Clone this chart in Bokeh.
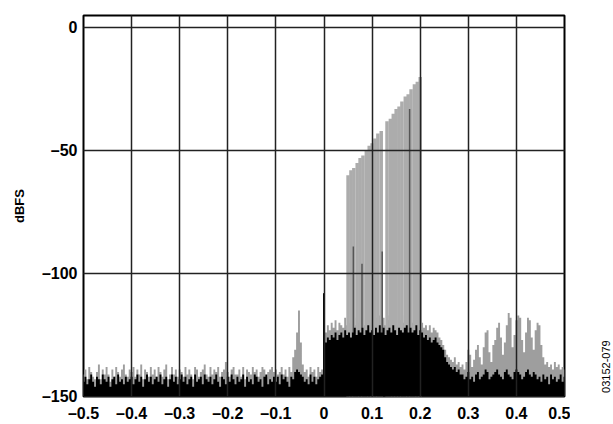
import math
import numpy as np
from bokeh.plotting import figure
from bokeh.layouts import row
from bokeh.models import Range1d, FixedTicker, Label, ColumnDataSource
from bokeh.embed import file_html
from bokeh.resources import INLINE

# ---------------- data ----------------
# FFT bin frequencies (normalized), 0.004 spacing
freq = np.round(np.linspace(-0.5, 0.5, 251), 4)

# black trace (average) in dBFS
black_neg = [
    -144, -142, -145, -143, -141, -144, -146, -142, -143, -145, -141, -143, -144, -142, -146, -143, -142, -145, -141, -144, -143, -145, -142, -144, -143,
    -142, -145, -143, -141, -144, -142, -146, -143, -141, -144, -142, -145, -143, -142, -144, -141, -145, -143, -142, -146, -143, -141, -144, -142, -145,
    -143, -141, -144, -142, -145, -143, -142, -146, -141, -144, -143, -142, -145, -141, -143, -144, -142, -145, -143, -141, -144, -146, -142, -143, -145,
    -142, -144, -141, -143, -145, -142, -144, -143, -141, -146, -142, -144, -143, -145, -141, -142, -144, -143, -146, -142, -141, -145, -143, -144, -142,
    -144, -142, -145, -141, -143, -142, -144, -146, -142, -143, -140, -139, -140, -141, -142, -144, -143, -145, -141, -144, -142, -145, -143, -142, -141,
]
black_mid = [
    -108,
    -128, -126, -127, -125,
    -126, -124, -127, -125, -124,
    -126, -123, -125, -124, -126,
    -124, -122, -125, -123, -124,
    -122, -125, -123, -121, -124,
    -123, -125, -122, -124, -121,
    -124, -122, -125, -123, -122,
    -124, -121, -123, -125, -122,
    -123, -124, -122, -121, -124,
    -122, -124, -123, -121, -125,
    -123, -124, -126, -125, -127,
    -126, -128, -127, -126, -128,
    -129, -130, -131, -134, -136,
    -137, -138, -139, -138, -140,
    -139, -141,
]
black_pos = [
    -141, -143, -142, -140, -143, -142, -144, -141, -140, -143,
    -142, -141, -139, -140, -143, -142, -141, -140, -139, -141,
    -142, -143, -140, -139, -141, -142, -143, -140, -139, -140,
    -141, -143, -142, -140, -139, -141, -142, -140, -141, -143,
    -142, -144, -141, -143, -142, -145, -141, -143, -142, -144,
    -143, -141, -144, -142,
]
black_level = black_neg + black_mid + black_pos

# gray trace (peak hold) in dBFS
gray_neg = [
    -141, -139, -143, -138, -140, -142, -143, -140, -137, -143, -139, -141, -138, -141, -144, -139, -142, -138, -140, -142, -139, -137, -141, -142, -139,
    -140, -138, -142, -139, -141, -137, -143, -139, -140, -142, -138, -141, -139, -142, -138, -140, -142, -139, -137, -143, -141, -138, -141, -139, -142,
    -139, -140, -142, -138, -141, -139, -141, -143, -138, -139, -142, -140, -139, -137, -141, -142, -138, -141, -139, -140, -138, -142, -140, -139, -136,
    -140, -142, -139, -138, -141, -141, -139, -142, -138, -143, -139, -140, -141, -138, -140, -139, -142, -140, -138, -139, -142, -140, -139, -138, -140,
    -139, -141, -140, -138, -141, -139, -142, -138, -140, -134, -131, -124, -115, -128, -137, -140, -139, -142, -138, -140, -139, -142, -138, -140, -139,
]
gray_mid = [
    -108,
    -124, -121, -123, -120,
    -122, -119, -123, -120, -121,
    -122, -118, -121, -120, -123,
    -119, -121, -118, -120, -122,
    -118, -121, -119, -117, -120,
    -119, -121, -118, -120, -117,
    -120, -118, -121, -119, -117,
    -120, -117, -119, -121, -118,
    -119, -120, -117, -118, -120,
    -118, -120, -119, -117, -121,
    -119, -120, -122, -121, -123,
    -121, -124, -122, -123, -124,
    -126, -127, -129, -131, -133,
    -134, -135, -136, -134, -137,
    -136, -138,
]
gray_pos = [
    -137, -139, -136, -131, -133, -138, -135, -131, -129, -134,
    -137, -130, -124, -123, -132, -136, -129, -127, -122, -120,
    -126, -133, -128, -121, -116, -118, -130, -125, -119, -117,
    -118, -127, -132, -124, -118, -119, -126, -131, -123, -120,
    -121, -129, -134, -137, -136, -138, -137, -139, -136, -138,
    -137, -139, -138, -139,
]
gray_level = gray_neg + gray_mid + gray_pos

# multitone signal (peak hold)
tone_freq = [0.050, 0.056, 0.062, 0.069, 0.075, 0.081, 0.088, 0.094, 0.100, 0.106, 0.112, 0.119,
             0.131, 0.138, 0.144, 0.150, 0.156, 0.162, 0.169, 0.175, 0.181, 0.188, 0.194, 0.200]
tone_level = [-60, -58, -57, -55, -53, -52, -50, -48, -47, -45, -43, -42,
              -38, -37, -35, -33, -32, -30, -28, -27, -25, -23, -22, -20]

# tones visible in black (average) trace
dark_freq = [0.061, 0.079, 0.121, 0.178]
dark_level = [-89, -96, -91, -33]

x_ticks = [-0.5, -0.4, -0.3, -0.2, -0.1, 0, 0.1, 0.2, 0.3, 0.4, 0.5]
x_labels = ["–0.5", "–0.4", "–0.3", "–0.2", "–0.1", "0", "0.1", "0.2", "0.3", "0.4", "0.5"]
y_ticks = [-150, -100, -50, 0]
y_labels = ["–150", "–100", "–50", "0"]

# ---------------- figure ----------------
FLOOR = -150
H = 424
p = figure(width=570, height=H, x_range=Range1d(-0.5, 0.5), y_range=Range1d(-150, 5),
           output_backend="svg", toolbar_location=None,
           min_border_left=83, min_border_right=6, min_border_top=15, min_border_bottom=26)
p.background_fill_color = "white"
p.border_fill_color = "white"
p.outline_line_color = "black"
p.outline_line_width = 2

src = ColumnDataSource(dict(f=freq, g=gray_level, b=black_level))
if hasattr(p, "varea_step"):
    p.varea_step(x="f", y1=FLOOR, y2="g", source=src, step_mode="center", fill_color="#9e9e9e")
else:
    p.varea(x="f", y1=FLOOR, y2="g", source=src, fill_color="#9e9e9e")
p.vbar(x=tone_freq, width=0.0072, bottom=FLOOR, top=tone_level,
       fill_color="#acacac", line_color=None)
p.segment(x0=dark_freq, y0=[FLOOR] * len(dark_freq), x1=dark_freq, y1=dark_level,
          line_color="#555555", line_width=1.5)
if hasattr(p, "varea_step"):
    p.varea_step(x="f", y1=FLOOR, y2="b", source=src, step_mode="center", fill_color="black")
else:
    p.varea(x="f", y1=FLOOR, y2="b", source=src, fill_color="black")

# grids
p.xgrid.ticker = FixedTicker(ticks=x_ticks)
p.ygrid.ticker = FixedTicker(ticks=y_ticks)
for g in (p.xgrid, p.ygrid):
    g.grid_line_color = "#222222"
    g.grid_line_width = 1.5
    g.level = "overlay"

# axes
font = "Liberation Sans"
p.xaxis.ticker = FixedTicker(ticks=x_ticks)
p.yaxis.ticker = FixedTicker(ticks=y_ticks)
p.xaxis.major_label_overrides = {t: l for t, l in zip(x_ticks, x_labels)}
p.yaxis.major_label_overrides = {t: l for t, l in zip(y_ticks, y_labels)}
for ax in (p.xaxis, p.yaxis):
    ax.axis_line_color = None
    ax.major_tick_line_color = None
    ax.minor_tick_line_color = None
    ax.major_tick_out = 0
    ax.major_tick_in = 0
    ax.major_label_text_font = font
    ax.major_label_text_font_style = "bold"
    ax.major_label_text_font_size = "16px"
    ax.major_label_text_color = "black"
p.xaxis.major_label_standoff = 8
p.yaxis.major_label_standoff = 6
p.yaxis.axis_label = "dBFS"
p.yaxis.axis_label_text_font = font
p.yaxis.axis_label_text_font_style = "bold"
p.yaxis.axis_label_text_font_size = "13px"
p.yaxis.axis_label_text_color = "black"
p.yaxis.axis_label_standoff = 12

# side panel with the figure code
SW = 42
side = figure(width=SW, height=H, x_range=Range1d(0, SW), y_range=Range1d(0, H),
              output_backend="svg", toolbar_location=None,
              min_border=0, min_border_left=0, min_border_right=0,
              min_border_top=0, min_border_bottom=0)
side.axis.visible = False
side.grid.visible = False
side.outline_line_color = None
side.background_fill_color = "white"
side.border_fill_color = "white"
side.add_layout(Label(x=35, y=H - 420, text="03152-079", angle=math.pi / 2,
                      text_align="left", text_baseline="middle",
                      text_font=font, text_font_size="11px", text_color="black"))

layout = row(p, side, spacing=0)
open("out.html", "w").write(file_html(layout, INLINE))
